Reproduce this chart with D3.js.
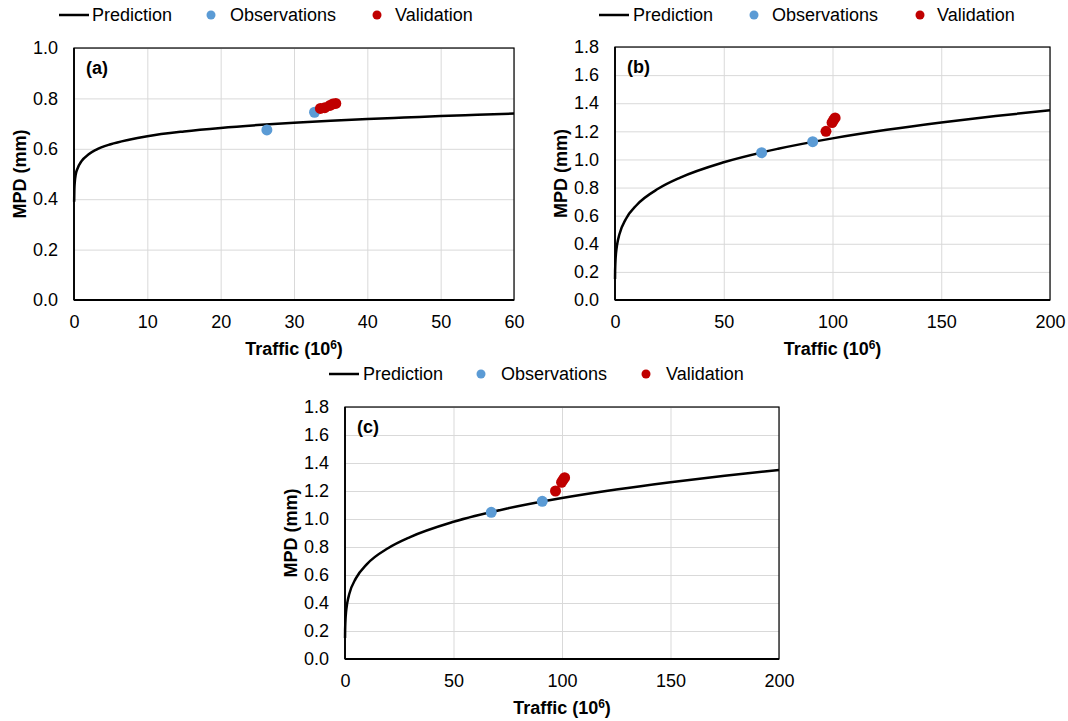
<!DOCTYPE html>
<html lang="en">
<head>
<meta charset="UTF-8" />
<script src="https://d3js.org/d3.v7.min.js"></script>
<title>MPD vs Traffic</title>
<style>
  body { margin: 0; background: #fff; }
  text { font-family: "Liberation Sans", Arial, sans-serif; fill: #000; }
</style>
</head>
<body>
<script>
const width = 1068;
const height = 721;

// ---- data ----
// panel (a)
const predA_x = [0.02, 0.05, 0.1, 0.25, 0.5, 1, 2, 3, 5, 7.5, 10, 15, 20, 25, 30, 35, 40, 45, 50, 55, 60];
const predA_y = [0.39, 0.44, 0.465, 0.50, 0.523, 0.55, 0.578, 0.596, 0.618, 0.636, 0.65, 0.669, 0.683, 0.694, 0.703, 0.711, 0.718, 0.724, 0.73, 0.735, 0.74];
const obsA_x = [26.3, 32.8];
const obsA_y = [0.675, 0.745];
const valA_x = [33.6, 34.2, 34.9, 35.3, 35.7];
const valA_y = [0.760, 0.763, 0.772, 0.778, 0.780];

// panels (b) and (c) show the same series
const predB_x = [0.015, 0.05, 0.1, 0.25, 0.5, 1, 2, 5, 10, 20, 30, 50, 75, 100, 125, 150, 175, 200];
const predB_y = [0.15, 0.20, 0.233, 0.288, 0.338, 0.397, 0.466, 0.576, 0.676, 0.793, 0.871, 0.98, 1.076, 1.15, 1.211, 1.263, 1.309, 1.35];
const obsB_x = [67.4, 90.9];
const obsB_y = [1.048, 1.126];
const valB_x = [97.0, 99.8, 100.5, 101.2];
const valB_y = [1.200, 1.262, 1.280, 1.295];

const xTicksA = [0, 10, 20, 30, 40, 50, 60];
const yTicksA = [0, 0.2, 0.4, 0.6, 0.8, 1.0];
const xTicksB = [0, 50, 100, 150, 200];
const yTicksB = [0, 0.2, 0.4, 0.6, 0.8, 1.0, 1.2, 1.4, 1.6, 1.8];

const zip = (xs, ys) => xs.map((x, i) => ({x: x, y: ys[i]}));

const panels = [
  {tag: "(a)", left: 74, right: 514, top: 48, bottom: 300, xMax: 60, yMax: 1.0,
   xTicks: xTicksA, yTicks: yTicksA,
   pred: zip(predA_x, predA_y), obs: zip(obsA_x, obsA_y), val: zip(valA_x, valA_y),
   legend: {y: 15, line: 59, pred: 92, obsDot: 211, obs: 230, valDot: 377, val: 395}},
  {tag: "(b)", left: 615, right: 1050, top: 47, bottom: 300, xMax: 200, yMax: 1.8,
   xTicks: xTicksB, yTicks: yTicksB,
   pred: zip(predB_x, predB_y), obs: zip(obsB_x, obsB_y), val: zip(valB_x, valB_y),
   legend: {y: 15, line: 599, pred: 633, obsDot: 754, obs: 772, valDot: 920, val: 937}},
  {tag: "(c)", left: 345, right: 779, top: 407, bottom: 659, xMax: 200, yMax: 1.8,
   xTicks: xTicksB, yTicks: yTicksB,
   pred: zip(predB_x, predB_y), obs: zip(obsB_x, obsB_y), val: zip(valB_x, valB_y),
   legend: {y: 374, line: 329, pred: 363, obsDot: 481, obs: 501, valDot: 646, val: 666}}
];

const blue = "#5b9bd5";
const red = "#c00000";
const grid = "#d9d9d9";
const fs = 18;

const svg = d3.select("body").append("svg")
  .attr("width", width)
  .attr("height", height);

panels.forEach(p => {
  const x = d3.scaleLinear().domain([0, p.xMax]).range([p.left, p.right]);
  const y = d3.scaleLinear().domain([0, p.yMax]).range([p.bottom, p.top]);
  const g = svg.append("g");

  // gridlines
  g.append("g")
    .attr("transform", `translate(0,${p.bottom})`)
    .call(d3.axisBottom(x).tickValues(p.xTicks).tickSize(-(p.bottom - p.top)).tickFormat(""))
    .call(a => a.select(".domain").remove())
    .selectAll("line").attr("stroke", grid).attr("stroke-width", 1);
  g.append("g")
    .attr("transform", `translate(${p.left},0)`)
    .call(d3.axisLeft(y).tickValues(p.yTicks).tickSize(-(p.right - p.left)).tickFormat(""))
    .call(a => a.select(".domain").remove())
    .selectAll("line").attr("stroke", grid).attr("stroke-width", 1);

  // plot frame
  g.append("rect")
    .attr("x", p.left).attr("y", p.top)
    .attr("width", p.right - p.left).attr("height", p.bottom - p.top)
    .attr("fill", "none").attr("stroke", "#000").attr("stroke-width", 1.2);
  g.append("line")
    .attr("x1", p.left).attr("x2", p.left).attr("y1", p.top).attr("y2", p.bottom)
    .attr("stroke", "#000").attr("stroke-width", 1.8);
  g.append("line")
    .attr("x1", p.left).attr("x2", p.right).attr("y1", p.bottom).attr("y2", p.bottom)
    .attr("stroke", "#000").attr("stroke-width", 1.8);

  // tick labels
  g.append("g")
    .attr("transform", `translate(0,${p.bottom})`)
    .call(d3.axisBottom(x).tickValues(p.xTicks).tickSize(0).tickPadding(15).tickFormat(d3.format("d")))
    .call(a => a.select(".domain").remove())
    .selectAll("text").attr("font-size", fs).attr("font-family", "Liberation Sans, Arial, sans-serif");
  g.append("g")
    .attr("transform", `translate(${p.left},0)`)
    .call(d3.axisLeft(y).tickValues(p.yTicks).tickSize(0).tickPadding(16).tickFormat(d3.format(".1f")))
    .call(a => a.select(".domain").remove())
    .selectAll("text").attr("font-size", fs).attr("font-family", "Liberation Sans, Arial, sans-serif");

  // axis titles
  const xt = g.append("text")
    .attr("x", (p.left + p.right) / 2).attr("y", p.bottom + 55)
    .attr("text-anchor", "middle").attr("font-size", fs).attr("font-weight", "bold");
  xt.append("tspan").text("Traffic (10");
  xt.append("tspan").attr("font-size", 12).attr("dy", -6).text("6");
  xt.append("tspan").attr("dy", 6).text(")");

  g.append("text")
    .attr("transform", `translate(${p.left - 48},${(p.top + p.bottom) / 2}) rotate(-90)`)
    .attr("text-anchor", "middle").attr("font-size", fs).attr("font-weight", "bold")
    .text("MPD (mm)");

  // panel tag
  g.append("text")
    .attr("x", p.left + 12).attr("y", p.top + 26)
    .attr("font-size", fs).attr("font-weight", "bold")
    .text(p.tag);

  // prediction curve
  g.append("path")
    .datum(p.pred)
    .attr("fill", "none").attr("stroke", "#000").attr("stroke-width", 2.5)
    .attr("d", d3.line().x(d => x(d.x)).y(d => y(d.y)).curve(d3.curveMonotoneX));

  // observations & validation
  g.selectAll(".obs").data(p.obs).join("circle")
    .attr("class", "obs")
    .attr("cx", d => x(d.x)).attr("cy", d => y(d.y)).attr("r", 5.5)
    .attr("fill", blue);
  g.selectAll(".val").data(p.val).join("circle")
    .attr("class", "val")
    .attr("cx", d => x(d.x)).attr("cy", d => y(d.y)).attr("r", 5.5)
    .attr("fill", red);

  // legend
  const L = p.legend;
  g.append("line")
    .attr("x1", L.line).attr("x2", L.line + 30).attr("y1", L.y).attr("y2", L.y)
    .attr("stroke", "#000").attr("stroke-width", 2.5);
  g.append("text").attr("x", L.pred).attr("y", L.y + 6).attr("font-size", fs).text("Prediction");
  g.append("circle").attr("cx", L.obsDot).attr("cy", L.y).attr("r", 4.5).attr("fill", blue);
  g.append("text").attr("x", L.obs).attr("y", L.y + 6).attr("font-size", fs).text("Observations");
  g.append("circle").attr("cx", L.valDot).attr("cy", L.y).attr("r", 4.5).attr("fill", red);
  g.append("text").attr("x", L.val).attr("y", L.y + 6).attr("font-size", fs).text("Validation");
});
</script>
</body>
</html>
